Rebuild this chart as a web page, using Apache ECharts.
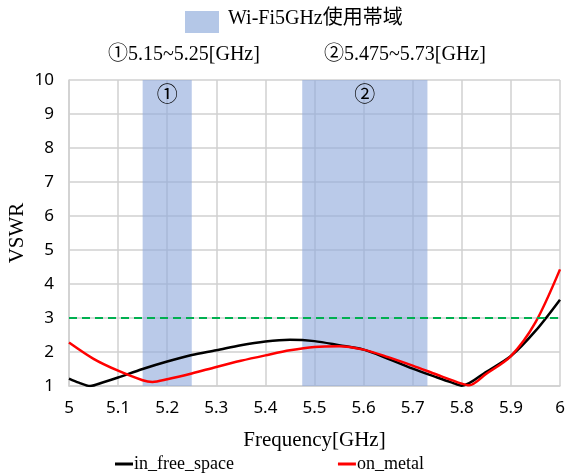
<!DOCTYPE html>
<html><head><meta charset="utf-8">
<script src="https://cdn.jsdelivr.net/npm/echarts@6/dist/echarts.min.js"></script>
<style>html,body{margin:0;padding:0;background:#fff}#c{width:566px;height:473px}</style>
</head><body><div id="c"></div>
<script>
const freeFreq = [5.00,5.02,5.043,5.07,5.10,5.15,5.20,5.25,5.30,5.35,5.40,5.45,5.50,5.55,5.60,5.65,5.70,5.75,5.78,5.80,5.85,5.90,5.95,6.00];
const freeVswr = [1.22,1.10,1.00,1.11,1.25,1.50,1.72,1.91,2.05,2.20,2.31,2.36,2.32,2.20,2.07,1.80,1.51,1.25,1.10,1.01,1.42,1.88,2.62,3.54];
const metalFreq = [5.00,5.05,5.10,5.15,5.17,5.20,5.25,5.30,5.35,5.40,5.45,5.50,5.55,5.60,5.65,5.70,5.75,5.80,5.815,5.85,5.90,5.95,6.00];
const metalVswr = [2.28,1.80,1.45,1.17,1.12,1.20,1.37,1.56,1.74,1.90,2.05,2.15,2.17,2.07,1.85,1.60,1.33,1.07,1.02,1.36,1.88,2.87,4.43];
const bands = [[5.15,5.25,'①'],[5.475,5.73,'②']];
const threshold = 3;
const seriesNames = ['in_free_space','on_metal'];
const serif = "'Liberation Serif','Noto Sans CJK JP',serif";
const sans = "'Noto Sans','Liberation Sans',sans-serif";

const chart = echarts.init(document.getElementById('c'));
chart.setOption({
  animation:false,
  backgroundColor:'#fff',
  grid:{left:69,right:6,top:80,bottom:87,outerBoundsMode:'none',containLabel:false},
  xAxis:{type:'value',min:5,max:6,interval:0.1,
    axisLine:{show:true,lineStyle:{color:'#d0d0d0',width:1.5}},
    axisTick:{show:false},
    splitLine:{show:true,lineStyle:{color:'#d0d0d0',width:1.5}},
    axisLabel:{fontFamily:sans,fontSize:17,color:'#000',margin:14,
      formatter:v=>{const r=Math.round(v*10)/10;return (r===5||r===6)?String(r):r.toFixed(1);}},
    name:'Frequency[GHz]',nameLocation:'middle',nameGap:44,
    nameTextStyle:{fontFamily:serif,fontSize:21,color:'#000'}},
  yAxis:{type:'value',min:1,max:10,interval:1,
    axisLine:{show:true,lineStyle:{color:'#d0d0d0',width:1.5}},
    axisTick:{show:false},
    splitLine:{show:true,lineStyle:{color:'#d0d0d0',width:1.5}},
    axisLabel:{fontFamily:sans,fontSize:17,color:'#000',margin:15},
    name:'VSWR',nameLocation:'middle',nameGap:41,nameMoveOverlap:false,
    nameTextStyle:{fontFamily:serif,fontSize:21,color:'#000'}},
  legend:{left:110,top:450,itemWidth:18,itemHeight:3,itemGap:104,icon:'rect',
    textStyle:{fontFamily:serif,fontSize:18,color:'#000',padding:[0,0,0,-4]},
    data:seriesNames},
  graphic:[
    {type:'rect',left:185,top:11,shape:{width:34,height:22},style:{fill:'#b4c7e7'}},
    {type:'text',left:228,top:9,style:{text:'Wi-Fi5GHz使用帯域',font:"20px "+serif,fill:'#000'}},
    {type:'text',left:108,top:45,style:{text:'①5.15~5.25[GHz]',font:"20px "+serif,fill:'#000'}},
    {type:'text',left:324,top:45,style:{text:'②5.475~5.73[GHz]',font:"20px "+serif,fill:'#000'}}
  ],
  series:[
    {name:seriesNames[0],type:'line',showSymbol:false,smooth:0.3,
      data:freeFreq.map((f,i)=>[f,freeVswr[i]]),
      lineStyle:{color:'#000',width:2.5},itemStyle:{color:'#000'},z:3,
      markArea:{silent:true,itemStyle:{color:'rgba(143,170,220,0.62)'},
        label:{position:'insideTop',distance:5,fontFamily:serif,fontSize:21,color:'#000'},
        data:bands.map(b=>[{xAxis:b[0],name:b[2]},{xAxis:b[1]}])}},
    {name:seriesNames[1],type:'line',showSymbol:false,smooth:0.3,
      data:metalFreq.map((f,i)=>[f,metalVswr[i]]),
      lineStyle:{color:'#ff0000',width:2.5},itemStyle:{color:'#ff0000'},z:4,
      markLine:{silent:true,symbol:'none',label:{show:false},
        lineStyle:{color:'#00b050',type:[8,5],width:2},
        data:[{yAxis:threshold}]}}
  ]
});
</script></body></html>
